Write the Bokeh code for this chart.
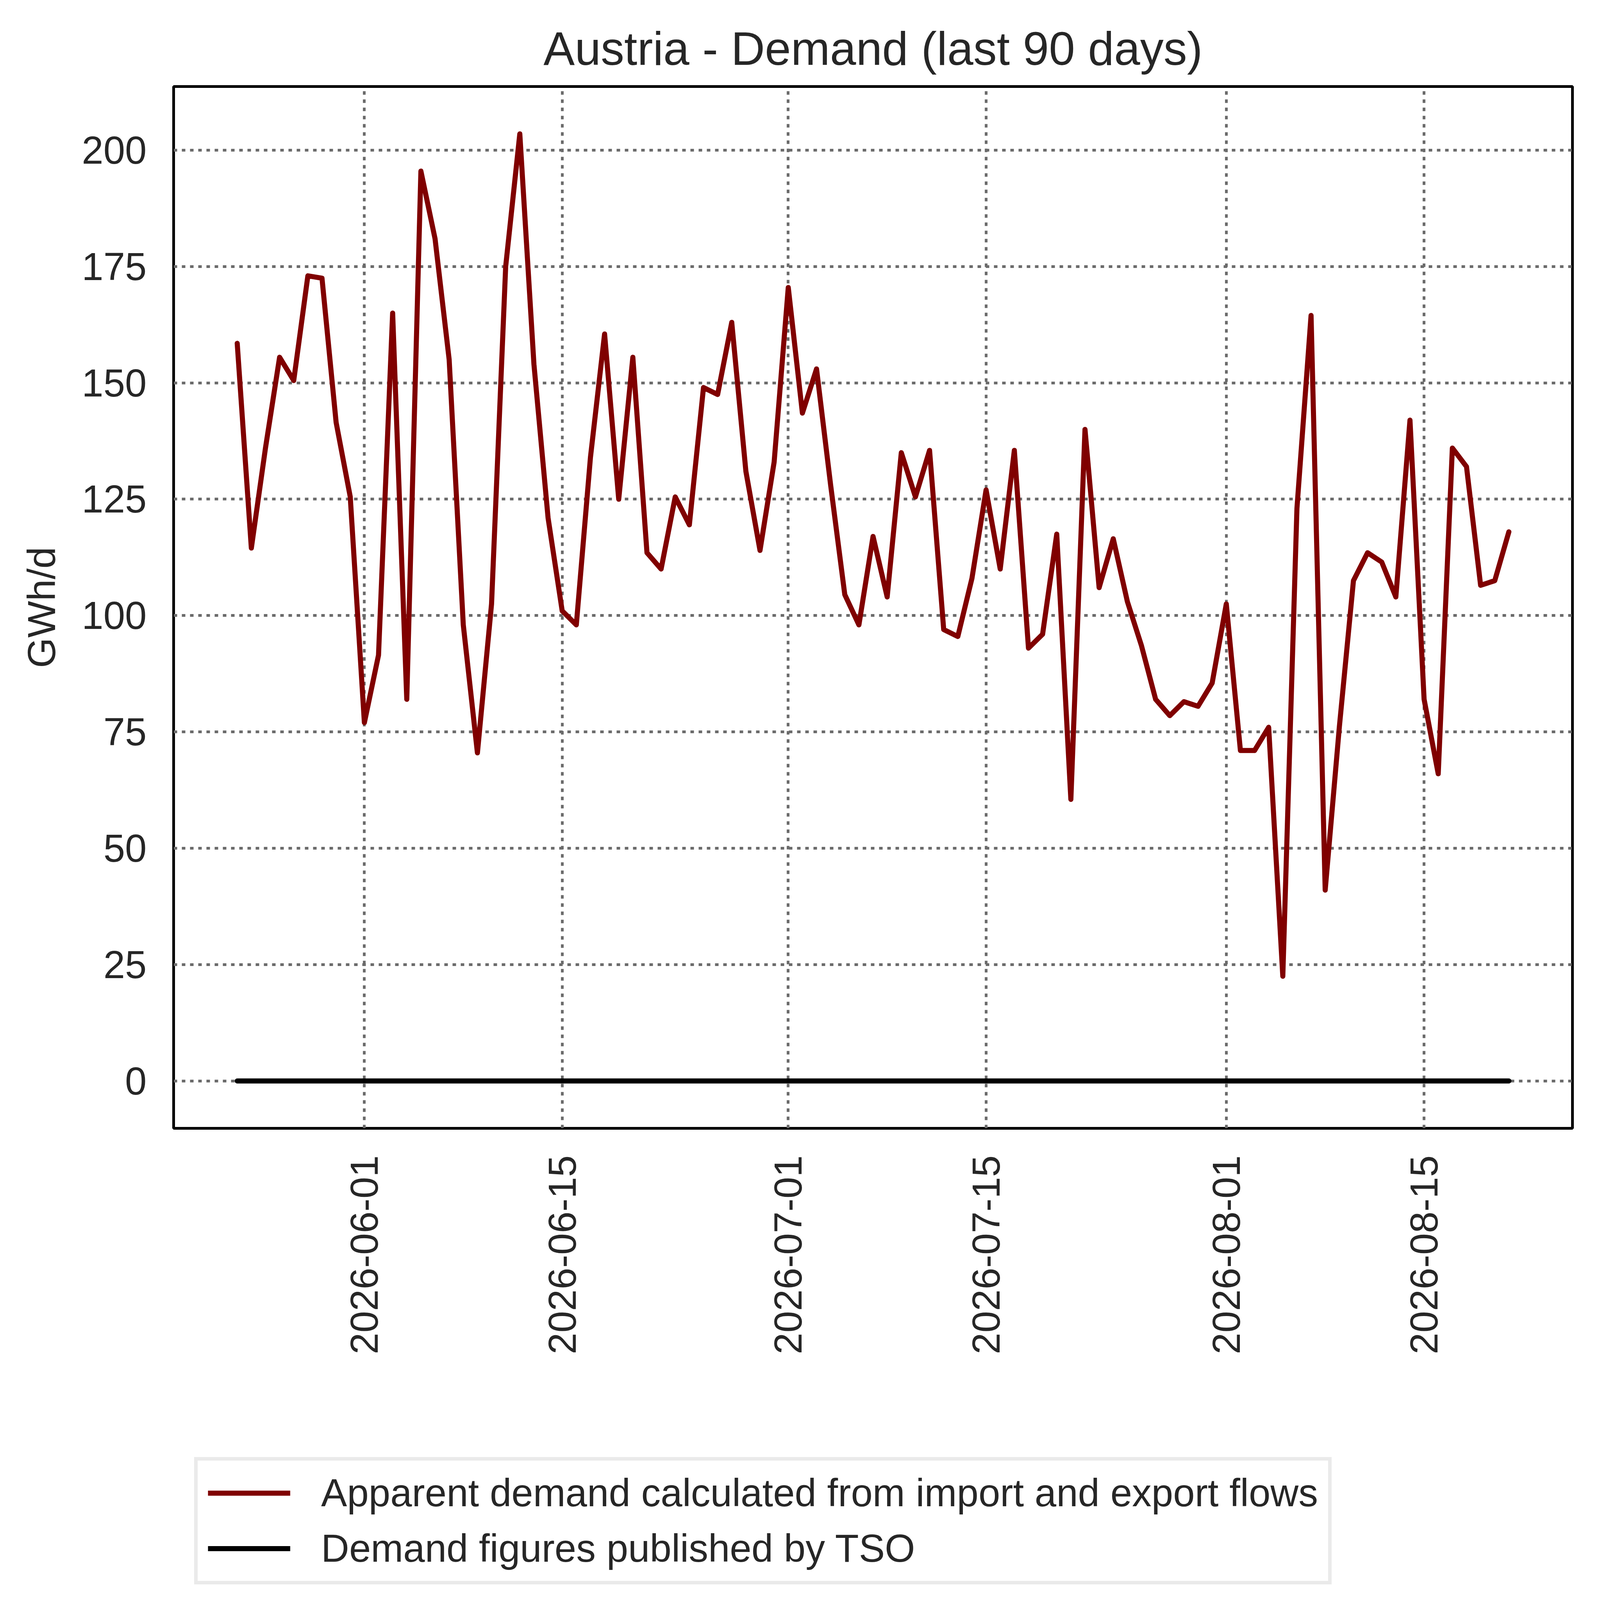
import math
import pandas as pd
from bokeh.plotting import figure
from bokeh.layouts import column
from bokeh.models import FixedTicker, DatetimeTickFormatter, Legend, LegendItem, Range1d
from bokeh.embed import file_html
from bokeh.resources import INLINE

# ---- data ----
start_date = "2026-05-23"
apparent_demand = [
    158.5, 114.5, 136, 155.5, 150.5, 173, 172.5, 141.5, 125.5, 77,
    91.5, 165, 82, 195.5, 181, 155, 98, 70.5, 102.5, 175,
    203.5, 154, 121, 101, 98, 134, 160.5, 125, 155.5, 113.5,
    110, 125.5, 119.5, 149, 147.5, 163, 131, 114, 133, 170.5,
    143.5, 153, 128, 104.5, 98, 117, 104, 135, 125.5, 135.5,
    97, 95.5, 108, 127, 110, 135.5, 93, 96, 117.5, 60.5,
    140, 106, 116.5, 103, 93.5, 82, 78.5, 81.5, 80.5, 85.5,
    102.5, 71, 71, 76, 22.5, 123, 164.5, 41, 76, 107.5,
    113.5, 111.5, 104, 142, 82, 66, 136, 132, 106.5, 107.5,
    118,
]
tso_demand = [0] * len(apparent_demand)
dates = pd.date_range(start_date, periods=len(apparent_demand), freq="D")

x_tick_labels = ["2026-06-01", "2026-06-15", "2026-07-01", "2026-07-15", "2026-08-01", "2026-08-15"]
y_ticks = [0, 25, 50, 75, 100, 125, 150, 175, 200]

title_text = "Austria - Demand (last 90 days)"
y_label = "GWh/d"
label_apparent = "Apparent demand calculated from import and export flows"
label_tso = "Demand figures published by TSO"

# ---- style ----
FONT = "Liberation Sans"
TXT = "#262626"
RED = "#800000"
W = 4080
H1 = 3600          # main chart
H2 = 511           # legend strip below it
FL, FT = 444, 221
FR = W - 4025
FB = H1 - 2888
TICK_FS = "99.6px"
LW = 13

span = dates[-1] - dates[0]
xpad = span * 0.05
ymin = min(min(apparent_demand), min(tso_demand))
ymax = max(max(apparent_demand), max(tso_demand))
ypad = (ymax - ymin) * 0.05

p = figure(width=W, height=H1, x_axis_type="datetime",
           output_backend="svg", toolbar_location=None,
           min_border_left=FL, min_border_right=FR,
           min_border_top=FT, min_border_bottom=FB,
           x_range=Range1d(dates[0] - xpad, dates[-1] + xpad),
           y_range=Range1d(ymin - ypad, ymax + ypad))

p.background_fill_color = "white"
p.border_fill_color = "white"
p.outline_line_color = "black"
p.outline_line_width = 7

p.title.text = title_text
p.title.align = "center"
p.title.text_font = FONT
p.title.text_font_size = "120px"
p.title.text_font_style = "normal"
p.title.text_color = TXT
p.title.standoff = 61

p.line(dates, apparent_demand, line_color=RED, line_width=LW,
       line_join="round", line_cap="round")
p.line(dates, tso_demand, line_color="black", line_width=LW,
       line_join="round", line_cap="round")

tick_ms = [pd.Timestamp(t).value // 10**6 for t in x_tick_labels]
p.xaxis.ticker = FixedTicker(ticks=tick_ms)
fmt = "%Y-%m-%d"
p.xaxis.formatter = DatetimeTickFormatter(
    milliseconds=fmt, seconds=fmt, minsec=fmt, minutes=fmt, hourmin=fmt,
    hours=fmt, days=fmt, months=fmt, years=fmt)
p.xaxis.major_label_orientation = math.pi / 2
p.yaxis.ticker = FixedTicker(ticks=y_ticks)

for ax in (p.xaxis[0], p.yaxis[0]):
    ax.axis_line_color = None
    ax.major_tick_line_color = None
    ax.minor_tick_line_color = None
    ax.major_tick_in = 0
    ax.major_tick_out = 0
    ax.minor_tick_in = 0
    ax.minor_tick_out = 0
    ax.major_label_text_font = FONT
    ax.major_label_text_font_size = TICK_FS
    ax.major_label_text_color = TXT
    ax.major_label_standoff = 69

p.yaxis.axis_label = y_label
p.yaxis.axis_label_text_font = FONT
p.yaxis.axis_label_text_font_size = TICK_FS
p.yaxis.axis_label_text_font_style = "normal"
p.yaxis.axis_label_text_color = TXT
p.yaxis.axis_label_standoff = 44

for g in (p.xgrid[0], p.ygrid[0]):
    g.grid_line_color = "#6b6b6b"
    g.grid_line_width = 7
    g.grid_line_dash = "9 12"

# ---- legend strip (same series, kept out of its visible range) ----
q = figure(width=W, height=H2, output_backend="svg", toolbar_location=None,
           x_axis_location=None, y_axis_location=None,
           min_border_left=0, min_border_right=0,
           min_border_top=0, min_border_bottom=0,
           x_range=Range1d(0, 1), y_range=Range1d(0, 1))
q.title.visible = False
q.outline_line_color = None
q.xgrid.visible = False
q.ygrid.visible = False
q.background_fill_color = "white"
q.border_fill_color = "white"

l1 = q.line(dates, apparent_demand, line_color=RED, line_width=LW)
l2 = q.line(dates, tso_demand, line_color="black", line_width=LW)

# the column aligns this strip's frame with the main frame (left edge at FL)
legend = Legend(items=[LegendItem(label=label_apparent, renderers=[l1]),
                       LegendItem(label=label_tso, renderers=[l2])],
                location=(53, 55), orientation="vertical")
legend.label_text_font = FONT
legend.label_text_font_size = TICK_FS
legend.label_text_color = TXT
legend.glyph_width = 211
legend.glyph_height = 112
legend.label_height = 112
legend.label_standoff = 79
legend.spacing = 28
legend.padding = 26
legend.margin = 0
legend.border_line_color = "#d6d6d6"
legend.border_line_width = 9
legend.background_fill_color = "white"
legend.background_fill_alpha = 1.0
q.add_layout(legend, "center")

layout = column(p, q, spacing=0)
open("out.html", "w").write(file_html(layout, INLINE))
